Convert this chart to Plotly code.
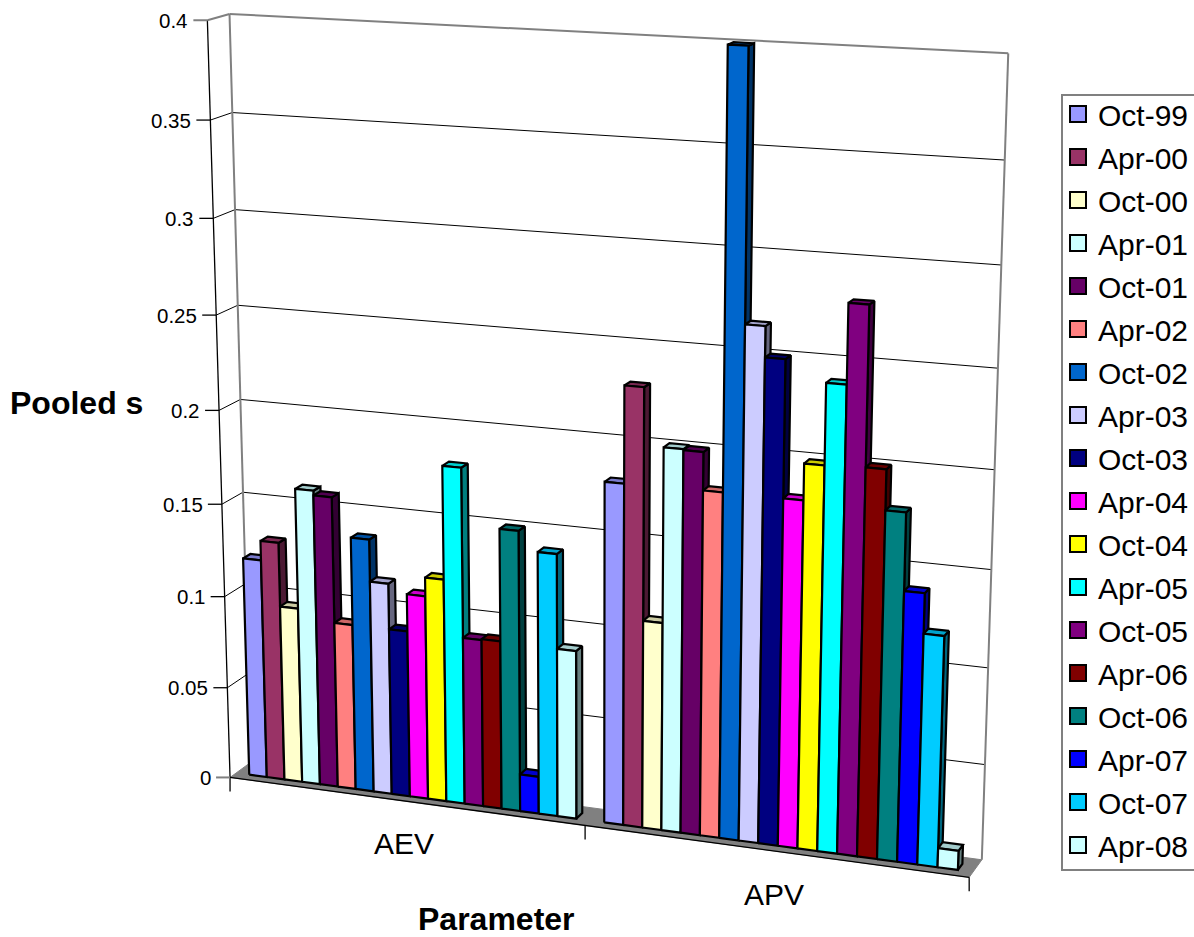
import numpy as np
import plotly.graph_objects as go

categories = ["AEV", "APV"]
series = ["Oct-99","Apr-00","Oct-00","Apr-01","Oct-01","Apr-02","Oct-02","Apr-03","Oct-03",
          "Apr-04","Oct-04","Apr-05","Oct-05","Apr-06","Oct-06","Apr-07","Oct-07","Apr-08"]
aev = [0.1195,0.130,0.0955,0.160,0.1575,0.090,0.137,0.1145,0.090,0.110,0.120,0.180,0.090,0.0905,0.150,0.020,0.140,0.090]
apv = [0.180,0.230,0.110,0.2005,0.200,0.1805,0.400,0.2655,0.250,0.1805,0.199,0.240,0.280,0.200,0.1795,0.140,0.1195,0.010]
colors = ["#9999FF","#993366","#FFFFCC","#CCFFFF","#660066","#FF8080","#0066CC","#CCCCFF","#000080",
          "#FF00FF","#FFFF00","#00FFFF","#800080","#800000","#008080","#0000FF","#00CCFF","#CCFFFF"]
value_ticks = [0,0.05,0.1,0.15,0.2,0.25,0.3,0.35,0.4]
VMAX = 0.4

# Camera of the oblique view (world: u along categories, v value, w depth) -> page
calib = [((0,0,0),(230.5,777)),((1,0,0),(969,878)),((0,0,1),(250,763)),((1,0,1),(982,859)),
         ((0,1,0),(207,20)),((0,1,1),(230,14)),((1,1,1),(1008,53)),
         ((0,.5,0),(219.5,410)),((0,.875,0),(210,120.5)),((1,.875,1),(1005,160.5))]
A, b = [], []
for (u,v,w),(x,y) in calib:
    A.append([u,v,w,1,0,0,0,0,-x*u,-x*v,-x*w]); b.append(x)
    A.append([0,0,0,0,u,v,w,1,-y*u,-y*v,-y*w]); b.append(y)
p = np.linalg.lstsq(np.array(A,float),np.array(b,float),rcond=None)[0]
P = np.append(p,1).reshape(3,4)
def proj(u,value,w):
    q = P @ np.array([u,value/VMAX,w,1.0])
    return q[0]/q[2], q[1]/q[2]

def poly(pts):
    xy=[proj(*t) for t in pts]; xy.append(xy[0])
    return [a[0] for a in xy]+[None],[a[1] for a in xy]+[None]
def shade(c,f):
    r,g,bb=[int(c[i:i+2],16) for i in (1,3,5)]
    return f"rgb({int(r*f)},{int(g*f)},{int(bb*f)})"
def line_trace(segs,color,width):
    xs,ys=[],[]
    for a,c in segs:
        xs+= [a[0],c[0],None]; ys+=[a[1],c[1],None]
    return go.Scatter(x=xs,y=ys,mode="lines",line=dict(color=color,width=width),hoverinfo="skip",showlegend=False)

fig = go.Figure()
# floor
fx,fy = poly([(0,0,0),(1,0,0),(1,0,1),(0,0,1)])
fig.add_trace(go.Scatter(x=fx,y=fy,fill="toself",fillcolor="#808080",mode="lines",line=dict(color="#808080",width=1),hoverinfo="skip",showlegend=False))
# gridlines
grid=[]
for t in value_ticks[1:-1]:
    grid.append((proj(0,t,0),proj(0,t,1)))
    grid.append((proj(0,t,1),proj(1,t,1)))
fig.add_trace(line_trace(grid,"#000000",1))
# axis ticks
ticks=[]
for t in value_ticks[1:-1]:
    a=proj(0,t,0); ticks.append((a,(a[0]-14,a[1])))
for u in (0,0.5,1):
    a=proj(u,0,0); ticks.append((a,(a[0],a[1]+14)))
ticks.append((proj(0,0,0),proj(0,VMAX,0)))
ticks.append((proj(0,0,0),proj(1,0,0)))
fig.add_trace(line_trace(ticks,"#000000",1.3))
gray=[(proj(0,VMAX,0),proj(0,VMAX,1)),(proj(0,VMAX,1),proj(1,VMAX,1)),
      (proj(0,0,1),proj(0,VMAX,1)),(proj(1,0,1),proj(1,VMAX,1)),
      (proj(0,0,0),(proj(0,0,0)[0]-14,proj(0,0,0)[1])),(proj(0,VMAX,0),(proj(0,VMAX,0)[0]-14,proj(0,VMAX,0)[1]))]
fig.add_trace(line_trace(gray,"#808080",2))

# bars
W0,W1 = 0.30,0.65
gapw = 1.48
bw = 0.5/(18+gapw)
for i,name in enumerate(series):
    fr=[[],[]]; si=[[],[]]; to=[[],[]]
    for c,vals in enumerate((aev,apv)):
        v=vals[i]
        u0=0.5*c+bw*(gapw/2+i); u1=u0+bw
        a=poly([(u0,0,W0),(u1,0,W0),(u1,v,W0),(u0,v,W0)])
        b_=poly([(u1,0,W0),(u1,0,W1),(u1,v,W1),(u1,v,W0)])
        c_=poly([(u0,v,W0),(u1,v,W0),(u1,v,W1),(u0,v,W1)])
        for store,pp in ((fr,a),(si,b_),(to,c_)):
            store[0]+=pp[0]; store[1]+=pp[1]
    line=dict(color="#000000",width=2.2)
    fig.add_trace(go.Scatter(x=si[0],y=si[1],fill="toself",fillcolor=shade(colors[i],.5),mode="lines",line=line,hoverinfo="skip",showlegend=False,legendgroup=name))
    fig.add_trace(go.Scatter(x=to[0],y=to[1],fill="toself",fillcolor=shade(colors[i],.8),mode="lines",line=line,hoverinfo="skip",showlegend=False,legendgroup=name))
    fig.add_trace(go.Scatter(x=fr[0],y=fr[1],fill="toself",fillcolor=colors[i],mode="lines",line=line,name=name,showlegend=False,legendgroup=name))
    fig.add_trace(go.Scatter(x=[None],y=[None],mode="markers",name=name,legendgroup=name,
                             marker=dict(symbol="square",size=18,color=colors[i],line=dict(color="#000000",width=2))))

ann=[]
FONT="Liberation Sans, Arial, sans-serif"
for t in value_ticks:
    x,y=proj(0,t,0)
    ann.append(dict(x=x-17,y=y,text=f"{t:g}",xanchor="right",yanchor="middle",showarrow=False,font=dict(size=20.5,color="#000",family=FONT)))
ann.append(dict(x=404,y=843,text=categories[0],showarrow=False,font=dict(size=30,color="#000",family=FONT)))
ann.append(dict(x=774,y=894,text=categories[1],showarrow=False,font=dict(size=30,color="#000",family=FONT)))
ann.append(dict(x=76,y=403,text="<b>Pooled s</b>",showarrow=False,font=dict(size=32,color="#000",family=FONT)))
ann.append(dict(x=496,y=919,text="<b>Parameter</b>",showarrow=False,font=dict(size=32,color="#000",family=FONT)))

fig.update_layout(
    width=1194,height=937,margin=dict(l=0,r=0,t=0,b=0,autoexpand=False),
    paper_bgcolor="white",plot_bgcolor="white",
    xaxis=dict(range=[0,1194],visible=False,fixedrange=True),
    yaxis=dict(range=[937,0],visible=False,fixedrange=True),
    annotations=ann,
    shapes=[dict(type="rect",xref="x",yref="y",x0=1062,x1=1196,y0=95,y1=870,line=dict(color="#808080",width=2),fillcolor="white",layer="below")],
    legend=dict(x=1058/1194,y=1-88/937,xanchor="left",yanchor="top",bgcolor="rgba(0,0,0,0)",
                borderwidth=0,font=dict(size=30,color="#000",family=FONT),
                tracegroupgap=1,itemclick=False,itemdoubleclick=False),
)
for a in fig.layout.annotations:
    a.xref="x"; a.yref="y"
fig.write_html("out.html",post_script="document.body.style.margin='0';document.documentElement.style.overflow='hidden';",config={"displayModeBar":False})
